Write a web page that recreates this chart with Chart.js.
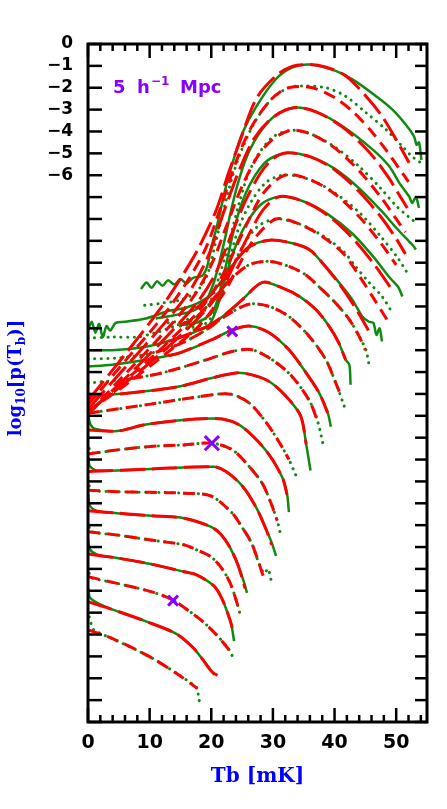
<!DOCTYPE html>
<html>
<head>
<meta charset="utf-8">
<script src="https://cdn.jsdelivr.net/npm/chart.js@4.4.0/dist/chart.umd.min.js"></script>
<style>
  html, body { margin: 0; padding: 0; background: #fff; }
  #wrap { width: 447px; height: 809px; }
</style>
</head>
<body>
<div id="wrap"><canvas id="myChart" width="447" height="809"></canvas></div>
<script>
const tbTicks = [0, 10, 20, 30, 40, 50];
const logTicks = [0, -1, -2, -3, -4, -5, -6];

const crossTb = [23.4, 20.1, 13.8];
const crossLog = [-13.14, -18.25, -25.45];

// green = simulation, red = model; curve i is shifted down by one decade each
const sim0 = [[8.6,-11.2],[9.5,-10.9],[10.3,-11.15],[11.2,-10.85],[12.1,-11.05],[13,-10.8],[14,-11.0],[15,-10.75],[16,-10.95],[17,-10.7],[18.5,-10.6],[19.3,-10.2],[20,-9.3],[20.9,-8.35],[22.4,-6.5],[23.6,-5.3],[25,-4.1],[27.3,-2.86],[30.5,-1.6],[33.1,-1.08],[35.9,-0.94],[39.6,-1.17],[42.9,-1.62],[46.8,-2.4],[49.4,-3.0],[51.6,-3.7],[52.9,-4.23],[53.3,-4.6],[53.7,-4.5],[54.1,-5.3]];
const mod0 = [[0,-16.3],[6,-14.2],[12,-12.0],[15.3,-10.6],[18,-9.3],[20.8,-7.6],[22.8,-5.9],[24.7,-4.4],[27.3,-2.5],[30.5,-1.45],[33.1,-1.02],[35.9,-0.94],[38.5,-1.05],[41.8,-1.45],[45.1,-2.39],[47.7,-3.3],[50,-4.37],[52.1,-5.43]];

const sim1 = [[9.2,-11.95],[12,-11.85],[15,-11.7],[17.5,-11.35],[19.3,-10.6],[20.6,-9.2],[22,-7.6],[23.5,-6.0],[25,-4.8],[27,-3.6],[29.5,-2.6],[31.8,-2.1],[33.7,-1.93],[38.6,-2.0],[41.8,-2.39],[45.1,-3.14],[48.3,-3.9],[51,-4.68],[52.6,-5.15],[54,-5.43]];
const mod1 = [[0,-16.5],[6,-14.5],[12,-12.5],[16,-10.9],[19,-9.4],[21.5,-7.5],[24,-5.4],[26.5,-3.8],[29.5,-2.6],[32,-2.05],[34.3,-1.94],[37,-2.05],[40,-2.45],[43,-3.1],[46,-4.0],[48.5,-4.9],[50.5,-5.7],[52,-6.3]];

const sim2 = [[11,-12.55],[14,-12.4],[17,-12.2],[19,-11.8],[20.3,-11.0],[21.3,-10.0],[22.3,-8.8],[23.3,-7.5],[24.5,-6.2],[26,-5.0],[28,-4.0],[30.5,-3.25],[33.4,-2.91],[37,-3.1],[41.3,-3.76],[46.2,-4.83],[48.9,-5.6],[50.5,-6.35],[52.1,-6.97],[52.6,-7.27],[53.2,-7.0],[53.7,-7.5]];
const mod2 = [[0,-16.7],[6,-14.8],[12,-12.9],[16.5,-11.3],[19.5,-9.7],[22,-7.7],[24.5,-5.8],[27,-4.3],[30,-3.35],[33.4,-2.91],[37,-3.1],[41.3,-3.8],[45.5,-4.9],[48.5,-6.0],[50.5,-6.9],[51.8,-7.5]];

const sim3 = [[13,-12.75],[16,-12.6],[18.5,-12.3],[20,-11.7],[21.2,-10.7],[22.4,-9.6],[23.4,-8.5],[24.5,-7.3],[25.8,-6.1],[27.5,-5.1],[30,-4.25],[32.9,-3.95],[36,-4.1],[40,-4.7],[44,-5.6],[47.5,-6.6],[50,-7.4],[52,-7.9],[53.4,-8.2]];
const mod3 = [[0,-16.9],[6,-15.1],[12,-13.3],[17,-11.6],[20,-10.1],[22.5,-8.3],[25,-6.5],[27.5,-5.15],[30,-4.35],[32.9,-3.95],[36,-4.1],[40,-4.75],[44,-5.8],[47.5,-7.0],[50,-8.0],[51.5,-8.6]];

const sim4 = [[15,-12.85],[18,-12.7],[20.3,-12.2],[21.4,-11.3],[22.4,-10.1],[23.5,-8.7],[24.8,-7.4],[26.5,-6.3],[29,-5.35],[32.1,-4.98],[36,-5.15],[40,-5.7],[44,-6.6],[47.5,-7.6],[50,-8.4],[52,-9.0],[52.7,-9.2],[53.2,-9.4]];
const mod4 = [[0,-16.9],[6,-15.3],[12,-13.6],[17.5,-11.9],[20.5,-10.6],[23,-8.9],[25.5,-7.2],[28,-5.9],[30,-5.25],[32.1,-4.98],[36,-5.15],[40,-5.75],[44,-6.75],[47.5,-7.9],[50,-8.9],[51.5,-9.6]];

const sim5 = [[16,-13.0],[19,-12.8],[20.8,-12.1],[22,-10.9],[23.2,-9.6],[24.6,-8.3],[26.5,-7.2],[29,-6.3],[32,-5.99],[36,-6.2],[40,-6.8],[44,-7.7],[47.5,-8.8],[50.3,-9.8],[51.8,-10.47]];
const mod5 = [[0,-16.9],[6,-15.4],[12,-13.9],[18,-12.2],[21,-11.0],[23.5,-9.6],[26,-8.1],[28.5,-6.8],[32,-5.99],[36,-6.2],[40,-6.85],[44,-7.9],[47.5,-9.1],[50,-10.1]];

const sim6 = [[17,-13.1],[19.5,-12.9],[21,-12.0],[22.2,-10.8],[23.6,-9.5],[25.5,-8.3],[28,-7.35],[31,-6.98],[35,-7.2],[39,-7.8],[43,-8.7],[46.5,-9.8],[49,-10.7],[50.3,-11.1],[51,-11.54]];
const mod6 = [[0,-16.8],[6,-15.5],[12,-14.1],[18,-12.5],[21.5,-11.3],[24,-9.9],[26.5,-8.5],[28.5,-7.55],[31,-6.98],[35,-7.2],[39,-7.85],[43,-8.9],[46.5,-10.1],[49,-11.1]];

const sim7 = [[15,-12.9],[18,-12.75],[20,-12.3],[21.5,-11.6],[23,-10.5],[25,-9.3],[27.5,-8.35],[30.5,-8.0],[34,-8.2],[38,-8.75],[41.5,-9.5],[43.4,-10.17],[45.6,-10.9],[47.7,-11.54],[49.4,-12.3]];
const mod7 = [[0,-16.8],[6,-15.6],[12,-14.3],[18,-12.9],[22,-11.4],[24.5,-10.1],[27,-8.9],[30.5,-8.0],[34,-8.2],[38,-8.8],[41.5,-9.6],[44,-10.6],[46.5,-11.7],[48.5,-12.6]];

const sim8 = [[0,-13.1],[0.6,-12.7],[1.2,-13.2],[1.8,-12.8],[2.4,-13.4],[3,-12.9],[3.6,-13.1],[4.5,-12.75],[6,-12.7],[9.4,-12.55],[13.1,-12.2],[16,-12.05],[19.3,-11.6],[21.5,-10.9],[23.5,-10.1],[26,-9.3],[29.4,-8.97],[33,-9.1],[35.9,-9.4],[38,-10],[40.7,-10.9],[42.9,-11.7],[44.5,-12.46],[45.6,-12.7],[46.3,-12.75],[46.8,-13.3],[47.3,-13.0],[47.7,-13.6]];
const mod8 = [[17.5,-12.1],[19.3,-11.65],[21.5,-10.95],[23.5,-10.1],[26,-9.3],[29.4,-8.97],[33,-9.1],[35.9,-9.4],[38,-10],[40.7,-10.95],[42.9,-11.85],[44.5,-12.6],[45.5,-13.1]];

const sim9 = [[0,-13.45],[4,-13.4],[7.8,-13.4],[11,-13.2],[14,-12.9],[17.5,-12.5],[20.5,-11.6],[23,-10.8],[26.1,-10.1],[29.4,-9.94],[32.6,-10.17],[35.3,-10.55],[38,-11.24],[40.2,-11.85],[42.4,-12.6],[44,-13.37],[45.1,-14],[45.6,-14.67]];
const mod9 = [[15,-12.85],[17.5,-12.5],[20.5,-11.6],[23,-10.8],[26.1,-10.1],[29.4,-9.94],[32.6,-10.17],[35.3,-10.55],[38,-11.24],[40.2,-11.85],[42.4,-12.6],[44,-13.37],[45,-14]];

const sim10 = [[0,-14.0],[3.9,-14.0],[9.4,-13.84],[14.8,-13.43],[19.2,-12.93],[21.8,-12.47],[25,-11.7],[28.3,-10.9],[31.5,-11.15],[34.3,-11.54],[37,-12.15],[39.1,-12.9],[40.7,-13.67],[41.8,-14.44],[42.4,-14.67],[42.6,-15.58]];
const mod10 = [[13,-13.6],[14.8,-13.43],[19.2,-12.93],[21.8,-12.47],[25,-11.7],[28.3,-10.9],[31.5,-11.15],[34.3,-11.54],[37,-12.15],[39.1,-12.9],[40.7,-13.67],[41.8,-14.44]];

const sim11 = [[0,-14.4],[5,-14.35],[10,-14.15],[15,-13.7],[19,-13.1],[22.5,-12.4],[26.1,-11.9],[29.4,-12.0],[32.6,-12.46],[35.9,-13.37],[38.6,-14.44],[40.2,-15.5],[41.6,-16.58]];
const mod11 = [[11,-14.1],[15,-13.7],[19,-13.1],[22.5,-12.4],[26.1,-11.9],[29.4,-12.0],[32.6,-12.46],[35.9,-13.37],[38.6,-14.44],[40.2,-15.5],[41.2,-16.2]];

const sim12 = [[0,-14.75],[3.9,-14.67],[9.4,-14.44],[14.8,-14.13],[20.1,-13.52],[23.2,-13.1],[26.3,-12.9],[29.4,-13.2],[32.6,-13.98],[35.3,-15.0],[37.5,-15.95],[38.9,-16.87],[39.4,-17.5]];
const mod12 = [[13,-14.25],[14.8,-14.13],[20.1,-13.52],[23.2,-13.1],[26.3,-12.9],[29.4,-13.2],[32.6,-13.98],[35.3,-15.0],[37.5,-15.95],[38.9,-16.87]];

const sim13 = [[0,-15.5],[5.5,-15.35],[12,-15.04],[19.2,-14.44],[23.4,-14.06],[26.6,-13.98],[29.9,-14.44],[33.1,-15.2],[35.9,-16.3],[37.2,-17.2],[38.3,-18.5]];
const mod13 = [[7,-15.3],[12,-15.04],[19.2,-14.44],[23.4,-14.06],[26.6,-13.98],[29.9,-14.44],[33.1,-15.2],[35.9,-16.3],[37.2,-17.2]];

const sim14 = [[0,-16.1],[6.7,-15.96],[14.8,-15.66],[20.1,-15.27],[24,-15.04],[26.6,-15.13],[29.4,-15.43],[32.1,-16.1],[34.5,-17.0],[35.4,-18.3],[36.1,-19.5]];
const mod14 = [[0,-16.1],[6.7,-15.96],[14.8,-15.66],[20.1,-15.27],[24,-15.04],[26.6,-15.13],[29.4,-15.43],[32.1,-16.1],[34.5,-17.0],[35.4,-18.3]];

const sim15 = [[0,-16.88],[9.4,-16.5],[17.5,-16.15],[22.9,-16.0],[26.1,-16.4],[28.9,-17.3],[31,-18.2],[32.6,-19],[33.7,-19.7]];
const mod15 = [[0,-16.88],[9.4,-16.5],[17.5,-16.15],[22.9,-16.0],[26.1,-16.4],[28.9,-17.3],[31,-18.2],[32.6,-19]];

const sim16 = [[0.05,-17.0],[0.4,-17.4],[1.2,-17.6],[4.7,-17.7],[9.4,-17.4],[17.5,-17.15],[21.8,-17.15],[25,-17.5],[28.9,-18.6],[31.5,-19.8],[32.3,-20.6],[32.6,-21.4]];
const mod16 = [[0,-17.65],[4.7,-17.7],[9.4,-17.4],[17.5,-17.15],[21.8,-17.15],[25,-17.5],[28.9,-18.6],[31.5,-19.8],[32.3,-20.6]];

const sim17 = [[0.2,-18.5],[0.5,-18.7],[4.7,-18.56],[10.2,-18.4],[15.6,-18.33],[20.1,-18.25],[23.4,-18.55],[26.1,-19.3],[28.3,-20.1],[29.7,-21],[30.7,-21.8],[31.3,-22.5]];
const mod17 = [[0,-18.75],[4.7,-18.56],[10.2,-18.4],[15.6,-18.33],[20.1,-18.25],[23.4,-18.55],[26.1,-19.3],[28.3,-20.1],[29.7,-21],[30.7,-21.8]];

const sim18 = [[0.05,-18.9],[0.3,-19.3],[1.5,-19.5],[10.2,-19.43],[20.5,-19.33],[22.4,-19.55],[25,-20.2],[27.3,-21.2],[28.9,-22.2],[29.8,-22.8],[30.5,-23.4]];
const mod18 = [[0,-19.55],[10.2,-19.43],[20.5,-19.33],[22.4,-19.55],[25,-20.2],[27.3,-21.2],[28.9,-22.2],[29.8,-22.9]];

const sim19 = [[0.2,-20.2],[0.5,-20.4],[4.7,-20.47],[10.2,-20.5],[15.6,-20.54],[19.9,-20.66],[23.4,-21.45],[25,-22.1],[26.5,-22.8],[27.8,-23.8],[28.6,-24.2],[29.2,-24.0],[29.7,-24.5]];
const mod19 = [[0,-20.4],[4.7,-20.47],[10.2,-20.5],[15.6,-20.54],[19.9,-20.66],[23.4,-21.45],[25,-22.1],[26.5,-22.8],[27.8,-23.8],[28.5,-24.4]];

const sim20 = [[0.05,-20.6],[0.3,-21.1],[1.5,-21.35],[4.7,-21.45],[10.2,-21.57],[15.6,-21.68],[19.9,-22.07],[21.5,-22.4],[23,-23.0],[24.3,-23.8],[25.3,-24.6],[25.8,-25.1]];
const mod20 = [[0,-21.34],[4.7,-21.45],[10.2,-21.57],[15.6,-21.68],[19.9,-22.07],[21.5,-22.4],[23,-23.0],[24.3,-23.8],[25.5,-24.9]];

const sim21 = [[0.2,-22.1],[0.5,-22.3],[4.7,-22.45],[10.2,-22.68],[15.6,-22.9],[17.7,-23.14],[19.9,-23.44],[21.5,-23.9],[23,-24.6],[24,-25.4],[24.8,-26.2]];
const mod21 = [[0,-22.3],[4.7,-22.45],[10.2,-22.68],[15.6,-22.9],[17.7,-23.14],[19.9,-23.44],[21.5,-23.9],[23,-24.6],[24,-25.4],[24.6,-26.0]];

const sim22 = [[0.05,-22.7],[0.3,-23.1],[1.5,-23.35],[4.7,-23.5],[10.2,-23.78],[15.6,-24.13],[17.7,-24.28],[20.5,-24.8],[21.8,-25.4],[23,-26.3],[23.3,-26.6],[23.7,-27.3]];
const mod22 = [[0,-23.32],[4.7,-23.5],[10.2,-23.78],[15.6,-24.13],[17.7,-24.28],[20.5,-24.8],[21.8,-25.4],[23,-26.3],[23.4,-26.7]];

const sim23 = [[0.2,-24.2],[0.5,-24.4],[4.7,-24.66],[10.2,-25.04],[13.6,-25.4],[16.5,-25.95],[18.8,-26.45],[20.8,-27.0],[22.9,-27.7],[23.6,-28.1]];
const mod23 = [[0,-24.36],[4.7,-24.66],[10.2,-25.04],[13.6,-25.4],[16.5,-25.95],[18.8,-26.45],[20.8,-27.0],[22.9,-27.7]];

const sim24 = [[0.05,-24.9],[0.3,-25.3],[1.5,-25.55],[3.9,-25.85],[9.4,-26.4],[14.2,-26.95],[16.9,-27.56],[18.5,-28.1],[20.1,-28.7],[20.5,-28.85]];
const mod24 = [[0,-25.5],[3.9,-25.85],[9.4,-26.4],[14.2,-26.95],[16.9,-27.56],[18.5,-28.1],[20.1,-28.7],[21.5,-28.95]];

const sim25 = [[0.2,-26.2],[0.5,-26.5],[1,-26.8],[3.9,-27.18],[9.9,-28.0],[14.8,-28.86],[17.7,-29.46],[17.9,-29.8],[18.1,-30.1]];
const mod25 = [[0.15,-26.8],[3.9,-27.18],[9.9,-28.0],[14.8,-28.86],[17.7,-29.46]];

const simCurves = [sim0, sim1, sim2, sim3, sim4, sim5, sim6, sim7, sim8, sim9, sim10, sim11, sim12,
                   sim13, sim14, sim15, sim16, sim17, sim18, sim19, sim20, sim21, sim22, sim23, sim24, sim25];
const modCurves = [mod0, mod1, mod2, mod3, mod4, mod5, mod6, mod7, mod8, mod9, mod10, mod11, mod12,
                   mod13, mod14, mod15, mod16, mod17, mod18, mod19, mod20, mod21, mod22, mod23, mod24, mod25];

const GREEN = '#108a10';
const RED = '#ff0000';
const PURPLE = '#8800ff';
const BLUE = '#0000ff';

const toXY = pts => pts.map(p => ({ x: p[0], y: p[1] }));

const datasets = [];
simCurves.forEach((pts, i) => {
    const solid = i % 2 === 0;
    datasets.push({
        data: toXY(pts),
        showLine: true,
        pointRadius: 0,
        borderColor: GREEN,
        borderWidth: solid ? 2.5 : 3,
        borderDash: solid ? [] : [0.1, 6.5],
        borderCapStyle: solid ? 'butt' : 'round',
        tension: 0.3,
        order: 3
    });
});
modCurves.forEach((pts, i) => {
    const solid = i % 2 === 0;
    datasets.push({
        data: toXY(pts),
        showLine: true,
        pointRadius: 0,
        borderColor: RED,
        borderWidth: 3,
        borderDash: solid ? [25, 7] : [12, 7],
        tension: 0.3,
        order: 2
    });
});
datasets.push({
    data: crossTb.map((x, k) => ({ x: x, y: crossLog[k] })),
    showLine: false,
    pointStyle: 'crossRot',
    pointRadius: [7, 10, 7],
    borderColor: PURPLE,
    borderWidth: 3,
    order: 1
});

const framePlugin = {
    id: 'frame',
    beforeDraw(chart) {
        const ctx = chart.ctx;
        ctx.save();
        ctx.fillStyle = '#fff';
        ctx.fillRect(0, 0, chart.width, chart.height);
        ctx.restore();
    },
    afterDraw(chart) {
        const { ctx, chartArea: a, scales: { x, y } } = chart;
        const line = (x1, y1, x2, y2) => { ctx.beginPath(); ctx.moveTo(x1, y1); ctx.lineTo(x2, y2); ctx.stroke(); };
        ctx.save();
        ctx.strokeStyle = '#000';
        ctx.lineWidth = 2.5;
        for (let v = 0; v <= 55; v += 2) {
            const px = x.getPixelForValue(v);
            const len = v % 10 === 0 ? 14 : 7;
            line(px, a.bottom, px, a.bottom - len);
            line(px, a.top, px, a.top + len);
        }
        for (let v = 0; v >= -31; v--) {
            const py = y.getPixelForValue(v);
            line(a.left, py, a.left + 14, py);
            line(a.right, py, a.right - 12, py);
        }
        ctx.lineWidth = 3;
        ctx.strokeRect(a.left, a.top, a.right - a.left, a.bottom - a.top);

        // box label
        ctx.fillStyle = PURPLE;
        ctx.textBaseline = 'alphabetic';
        ctx.textAlign = 'left';
        ctx.font = 'bold 18px "DejaVu Sans"';
        ctx.fillText('5', 113, 93);
        ctx.fillText('h', 137, 93);
        ctx.fillText('Mpc', 180, 93);
        ctx.font = 'bold 12px "DejaVu Sans"';
        ctx.fillText('\u22121', 151, 85);

        // x title
        ctx.fillStyle = BLUE;
        ctx.font = 'bold 20px "DejaVu Serif"';
        ctx.textAlign = 'center';
        ctx.fillText('Tb [mK]', (a.left + a.right) / 2, 782);

        // y title with subscripts
        const big = 'bold 18px "DejaVu Serif"';
        const small = 'bold 12px "DejaVu Serif"';
        const parts = [['log', big, 0], ['10', small, 4], ['[p(T', big, 0], ['b', small, 4], [')]', big, 0]];
        let total = 0;
        parts.forEach(p => { ctx.font = p[1]; total += ctx.measureText(p[0]).width; });
        ctx.save();
        ctx.translate(21, 378 + total / 2);
        ctx.rotate(-Math.PI / 2);
        ctx.textAlign = 'left';
        let cx = 0;
        parts.forEach(p => {
            ctx.font = p[1];
            ctx.fillText(p[0], cx, p[2]);
            cx += ctx.measureText(p[0]).width;
        });
        ctx.restore();
        ctx.restore();
    }
};

const ctx = document.getElementById('myChart').getContext('2d');
const chart = new Chart(ctx, {
    type: 'scatter',
    data: { datasets: datasets },
    options: {
        responsive: false,
        animation: false,
        events: [],
        layout: { padding: { left: 0, right: 20, top: 44, bottom: 0 } },
        plugins: { legend: { display: false }, tooltip: { enabled: false } },
        scales: {
            x: {
                type: 'linear', min: 0, max: 55, position: 'bottom',
                afterBuildTicks: s => { s.ticks = tbTicks.map(v => ({ value: v })); },
                afterFit: s => { s.height = 87; },
                grid: { display: false, drawTicks: false },
                border: { display: false },
                ticks: {
                    color: '#000', padding: 10, maxRotation: 0, autoSkip: false,
                    font: { family: 'DejaVu Sans', weight: 'bold', size: 19 }
                }
            },
            y: {
                type: 'linear', min: -31, max: 0,
                afterBuildTicks: s => { s.ticks = logTicks.map(v => ({ value: v })); },
                afterFit: s => { s.width = 88; },
                grid: { display: false, drawTicks: false },
                border: { display: false },
                ticks: {
                    color: '#000', padding: 15, autoSkip: false,
                    font: { family: 'DejaVu Sans', weight: 'bold', size: 17 },
                    callback: v => (v === 0 ? '0' : '\u2212' + Math.abs(v))
                }
            }
        }
    },
    plugins: [framePlugin]
});
</script>
</body>
</html>
